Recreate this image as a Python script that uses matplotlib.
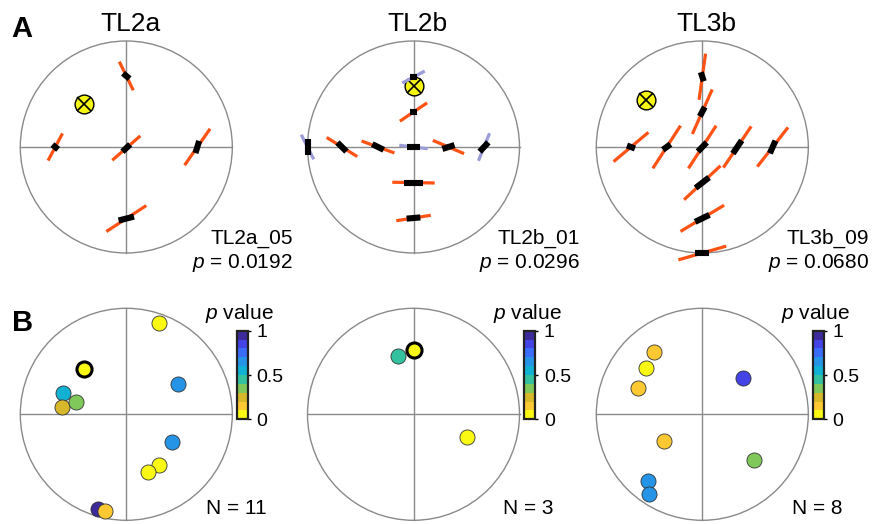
import numpy as np
import matplotlib.pyplot as plt
from matplotlib.patches import Circle
from matplotlib.colors import ListedColormap, Normalize
from matplotlib.colorbar import ColorbarBase

plt.rcParams['font.family'] = 'Liberation Sans'
plt.rcParams['mathtext.fontset'] = 'custom'
plt.rcParams['mathtext.it'] = 'Liberation Sans:italic'
plt.rcParams['mathtext.rm'] = 'Liberation Sans'

W, H = 877, 524

sites = ['TL2a', 'TL2b', 'TL3b']
best_site = ['TL2a_05', 'TL2b_01', 'TL3b_09']
best_p = ['0.0192', '0.0296', '0.0680']

# top row: best-fit pole (x marker)
pole_x = [-0.40, 0.00, -0.53]
pole_y = [0.41, 0.58, 0.44]

# top row stations: position, long line (angle deg, length), black bar (angle deg, length), lavender flag
tl2a_x = [0.00, -0.67, 0.00, 0.67, 0.00]
tl2a_y = [0.67, 0.00, -0.01, 0.00, -0.675]
tl2a_ang = [-64, 62, 41, 55, 33]
tl2a_len = [0.30, 0.29, 0.35, 0.42, 0.45]
tl2a_bang = [-40, -40, 43, 73, 14]
tl2a_blen = [0.08, 0.07, 0.10, 0.12, 0.15]
tl2a_lav = [0, 0, 0, 0, 0]

tl2b_x = [0.00, 0.00, -1.00, -0.675, -0.335, 0.00, 0.33, 0.665, 0.00, 0.00]
tl2b_y = [0.66, 0.33, 0.00, 0.00, 0.00, 0.00, 0.00, 0.00, -0.336, -0.67]
tl2b_ang = [28, 34, -63, -32, -20, -7, -23, 68, -1, 9]
tl2b_len = [0.24, 0.31, 0.26, 0.34, 0.33, 0.27, 0.32, 0.28, 0.40, 0.33]
tl2b_bang = [0, 0, 90, -45, -26, 0, 18, 47, 0, 5]
tl2b_blen = [0.07, 0.07, 0.16, 0.12, 0.12, 0.12, 0.12, 0.12, 0.17, 0.13]
tl2b_lav = [1, 0, 1, 0, 0, 1, 0, 1, 0, 0]

tl3b_x = [0.00, 0.00, -0.673, -0.336, 0.00, 0.33, 0.664, 0.00, 0.00, 0.00]
tl3b_y = [0.663, 0.333, 0.00, 0.00, 0.00, 0.00, 0.00, -0.337, -0.673, -1.00]
tl3b_ang = [82, 66, 40, 57, 57, 56, 52, 43, 31, 16]
tl3b_len = [0.44, 0.46, 0.43, 0.48, 0.48, 0.47, 0.47, 0.47, 0.48, 0.47]
tl3b_bang = [-72, 62, -20, 36, 46, 56, 66, 38, 26, 0]
tl3b_blen = [0.09, 0.10, 0.08, 0.09, 0.12, 0.15, 0.13, 0.16, 0.15, 0.13]
tl3b_lav = [0, 0, 0, 0, 0, 0, 0, 0, 0, 0]

top = [
    (tl2a_x, tl2a_y, tl2a_ang, tl2a_len, tl2a_bang, tl2a_blen, tl2a_lav),
    (tl2b_x, tl2b_y, tl2b_ang, tl2b_len, tl2b_bang, tl2b_blen, tl2b_lav),
    (tl3b_x, tl3b_y, tl3b_ang, tl3b_len, tl3b_bang, tl3b_blen, tl3b_lav),
]

# bottom row: poles of all specimens, coloured by p value
b1_x = [0.31, -0.594, -0.61, -0.477, 0.49, 0.434, 0.308, 0.208, -0.264, -0.20, -0.396]
b1_y = [0.864, 0.198, 0.066, 0.119, 0.286, -0.264, -0.478, -0.547, -0.896, -0.912, 0.425]
b1_p = [0.05, 0.55, 0.25, 0.35, 0.65, 0.65, 0.05, 0.05, 0.95, 0.15, 0.0192]
b1_hl = [0, 0, 0, 0, 0, 0, 0, 0, 0, 0, 1]

b2_x = [-0.148, 0.506, 0.003]
b2_y = [0.55, -0.214, 0.61]
b2_p = [0.45, 0.05, 0.0296]
b2_hl = [0, 0, 1]

b3_x = [-0.456, -0.53, -0.604, 0.387, -0.361, 0.488, -0.515, -0.503]
b3_y = [0.59, 0.44, 0.252, 0.346, -0.252, -0.427, -0.629, -0.748]
b3_p = [0.15, 0.068, 0.15, 0.85, 0.15, 0.35, 0.65, 0.65]
b3_hl = [0, 0, 0, 0, 0, 0, 0, 0]

bottom = [(b1_x, b1_y, b1_p, b1_hl), (b2_x, b2_y, b2_p, b2_hl), (b3_x, b3_y, b3_p, b3_hl)]

# 10-step colour scale, p = 0 (yellow) to 1 (dark blue)
pcolors = ['#f9f914', '#fcc932', '#d6b82a', '#80c85a', '#33c19f',
           '#10b1d2', '#2593e6', '#3b6cf8', '#4444e6', '#3d2b9c']
cmap = ListedColormap(pcolors)
norm = Normalize(0, 1)

cx = [126.3, 413.5, 702.3]
cy_top, cy_bot, r = 147.0, 414.3, 106.0
grey = '#8a8a8a'
orange = '#ff5215'
lav = '#9c9cd8'


def stereonet(cxp, cyp):
    ax = fig.add_axes([(cxp - r) / W, 1 - (cyp + r) / H, 2 * r / W, 2 * r / H])
    ax.set_xlim(-1, 1)
    ax.set_ylim(-1, 1)
    ax.axis('off')
    ax.add_patch(Circle((0, 0), 1, fill=False, ec=grey, lw=1.0, clip_on=False))
    ax.plot([-1, 1], [0, 0], color=grey, lw=1.0, clip_on=False)
    ax.plot([0, 0], [-1, 1], color=grey, lw=1.0, clip_on=False)
    return ax


fig = plt.figure(figsize=(W / 100, H / 100), dpi=100)

for i in range(3):
    ax = stereonet(cx[i], cy_top)
    ax.plot(pole_x[i], pole_y[i], 'o', ms=13.5, mfc='#f5f514', mec='k', mew=1.0, clip_on=False)
    ax.plot(pole_x[i], pole_y[i], 'x', ms=9.5, mec='k', mew=1.2, clip_on=False)
    x, y, ang, ln, bang, bln, lv = top[i]
    for j in range(len(x)):
        a = np.radians(ang[j])
        dx, dy = 0.5 * ln[j] * np.cos(a), 0.5 * ln[j] * np.sin(a)
        ax.plot([x[j] - dx, x[j] + dx], [y[j] - dy, y[j] + dy],
                color=lav if lv[j] else orange, lw=2.3, solid_capstyle='butt', clip_on=False)
        b = np.radians(bang[j])
        dx, dy = 0.5 * bln[j] * np.cos(b), 0.5 * bln[j] * np.sin(b)
        ax.plot([x[j] - dx, x[j] + dx], [y[j] - dy, y[j] + dy],
                color='k', lw=4.4, solid_capstyle='butt', clip_on=False)
    ax.text(0.04, 1.09, sites[i], ha='center', va='baseline', fontsize=19)
    ax.text(1.57, -0.91, best_site[i], ha='right', va='baseline', fontsize=15)
    ax.text(1.57, -1.145, r'$\it{p}$ = ' + best_p[i], ha='right', va='baseline', fontsize=15)

for i in range(3):
    ax = stereonet(cx[i], cy_bot)
    x, y, p, hl = bottom[i]
    for j in range(len(x)):
        ax.scatter(x[j], y[j], s=118, c=[p[j]], cmap=cmap, norm=norm,
                   edgecolors='k' if hl[j] else '#333333', linewidths=2.2 if hl[j] else 0.6,
                   zorder=3, clip_on=False)
    ax.text(1.325, -0.943, 'N = %d' % len(x), ha='right', va='baseline', fontsize=15)

    cax = fig.add_axes([(cx[i] + 1.04 * r) / W, 1 - 419.3 / H, 11 / W, 88.6 / H])
    cb = ColorbarBase(cax, cmap=cmap, norm=norm, ticks=[0, 0.5, 1])
    cb.set_ticklabels(['0', '0.5', '1'])
    cb.outline.set_linewidth(1.6)
    cb.outline.set_edgecolor('#222222')
    cax.tick_params(direction='out', length=2.5, width=1, labelsize=14, pad=4)
    cax.text(0.3, 1.13, r'$\it{p}$ value', ha='center', va='baseline', fontsize=15,
             transform=cax.transAxes)

fig.text(11.5 / W, 1 - 36.7 / H, 'A', fontsize=21, fontweight='bold', va='baseline')
fig.text(12.5 / W, 1 - 331 / H, 'B', fontsize=21, fontweight='bold', va='baseline')

fig.savefig('out.png', dpi=100)
